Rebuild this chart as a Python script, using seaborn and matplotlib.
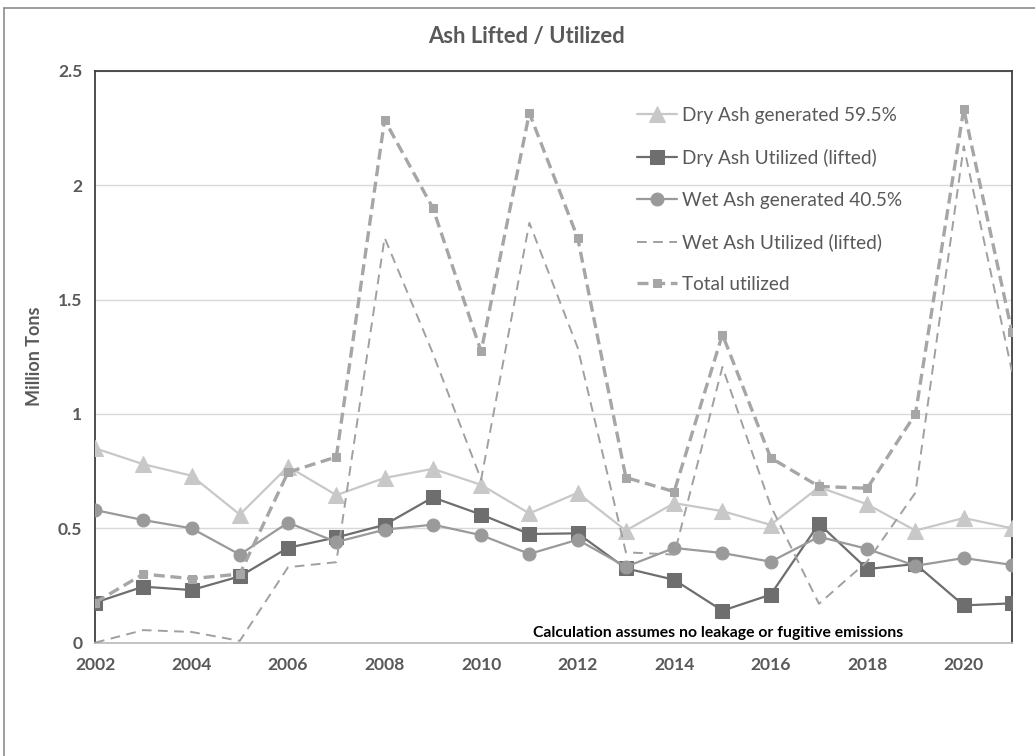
import matplotlib
matplotlib.use("Agg")
import matplotlib.pyplot as plt
from matplotlib.lines import Line2D
from matplotlib.ticker import FuncFormatter, MultipleLocator
import seaborn as sns
import pandas as pd

years = list(range(2002, 2022))
dry_gen = [0.85, 0.78, 0.73, 0.56, 0.77, 0.645, 0.72, 0.76, 0.69, 0.565,
           0.655, 0.49, 0.61, 0.575, 0.515, 0.68, 0.605, 0.49, 0.545, 0.50]
dry_util = [0.175, 0.245, 0.23, 0.29, 0.415, 0.46, 0.515, 0.635, 0.56, 0.475,
            0.478, 0.325, 0.275, 0.14, 0.21, 0.52, 0.322, 0.344, 0.163, 0.172]
wet_gen = [0.58, 0.536, 0.50, 0.385, 0.525, 0.44, 0.494, 0.516, 0.47, 0.388,
           0.45, 0.332, 0.414, 0.392, 0.354, 0.463, 0.41, 0.336, 0.37, 0.34]
wet_util = [0.0, 0.055, 0.047, 0.008, 0.33, 0.352, 1.77, 1.265, 0.713, 1.835,
            1.29, 0.395, 0.385, 1.205, 0.598, 0.17, 0.355, 0.656, 2.17, 1.185]
total = [0.175, 0.30, 0.28, 0.30, 0.745, 0.812, 2.285, 1.90, 1.273, 2.315,
         1.77, 0.722, 0.66, 1.347, 0.808, 0.683, 0.675, 1.0, 2.333, 1.357]

labels = ["Dry Ash generated 59.5%", "Dry Ash Utilized (lifted)",
          "Wet Ash generated 40.5%", "Wet Ash Utilized (lifted)", "Total utilized"]
title = "Ash Lifted / Utilized"
ylabel = "Million Tons"
note = "Calculation assumes no leakage or fugitive emissions"

df = pd.DataFrame({"year": years, "dry_gen": dry_gen, "dry_util": dry_util,
                   "wet_gen": wet_gen, "wet_util": wet_util, "total": total})

sns.set_style("white")
plt.rcParams["font.family"] = ["Lato", "DejaVu Sans"]

W, H = 1035, 756
fig = plt.figure(figsize=(W / 100, H / 100), dpi=100)
left, right, top, bottom = 95, 1012, 70.7, 642.7
ax = fig.add_axes([left / W, 1 - bottom / H, (right - left) / W, (bottom - top) / H])

c_drygen = "#C8C8C8"
c_dryutil = "#6E6E6E"
c_wetgen = "#9A9A9A"
c_wetutil = "#A0A0A0"
c_total = "#A6A6A6"

sns.lineplot(data=df, x="year", y="dry_gen", ax=ax, color=c_drygen, linewidth=1.6,
             marker="^", markersize=11, markeredgecolor=c_drygen, markerfacecolor=c_drygen,
             zorder=3)
sns.lineplot(data=df, x="year", y="dry_util", ax=ax, color=c_dryutil, linewidth=1.6,
             marker="s", markersize=10, markeredgecolor=c_dryutil, markerfacecolor=c_dryutil,
             zorder=4)
sns.lineplot(data=df, x="year", y="wet_gen", ax=ax, color=c_wetgen, linewidth=1.6,
             marker="o", markersize=9.3, markeredgecolor=c_wetgen, markerfacecolor=c_wetgen,
             zorder=5)
sns.lineplot(data=df, x="year", y="wet_util", ax=ax, color=c_wetutil, linewidth=1.4,
             linestyle=(0, (5, 3.3)), zorder=6)
sns.lineplot(data=df, x="year", y="total", ax=ax, color=c_total, linewidth=2.4,
             linestyle=(0, (3.3, 1.7)), marker="s", markersize=6.3,
             markeredgecolor=c_total, markerfacecolor=c_total, zorder=7)

lines = ax.get_lines()[:5]

ax.set_xlim(2002, 2021)
ax.set_ylim(0, 2.5)
ax.xaxis.set_major_locator(MultipleLocator(2))
ax.yaxis.set_major_locator(MultipleLocator(0.5))
ax.yaxis.set_major_formatter(FuncFormatter(lambda v, p: f"{v:g}"))
ax.grid(axis="y", color="#D9D9D9", linewidth=1.0)
ax.grid(axis="x", visible=False)
ax.set_axisbelow(True)

for s in ["top", "left", "right"]:
    ax.spines[s].set_color("#404040")
    ax.spines[s].set_linewidth(1.3)
ax.spines["bottom"].set_color("#BFBFBF")
ax.spines["bottom"].set_linewidth(1.3)

ax.tick_params(axis="x", direction="out", length=4, width=1, color="#BFBFBF",
               labelsize=12.6, labelcolor="#595959", pad=6)
ax.tick_params(axis="y", length=0, labelsize=12.6, labelcolor="#595959", pad=9)
for lab in ax.get_xticklabels() + ax.get_yticklabels():
    lab.set_fontweight("bold")

ax.set_xlabel("")
ax.set_ylabel(ylabel, fontsize=13, fontweight="bold", color="#595959", labelpad=11)

leg = ax.legend(lines, labels, loc="upper left",
                bbox_to_anchor=(637 / W, 1 - 107 / H), bbox_transform=fig.transFigure,
                frameon=False, fontsize=13.7, labelcolor="#595959",
                handlelength=2.1, handletextpad=0.25, labelspacing=1.3, borderpad=0,
                borderaxespad=0)

ax.text(0.4776, 0.0166, note, transform=ax.transAxes, ha="left", va="center",
        fontsize=11.3, fontweight="bold", color="black")

fig.text(527 / W, 1 - 36 / H, title, ha="center", va="center",
         fontsize=15.8, fontweight="bold", color="#595959")

fig.add_artist(Line2D([4 / W, 1], [1 - 8.3 / H, 1 - 8.3 / H], transform=fig.transFigure,
                      color="#8C8C8C", linewidth=1.2))
fig.add_artist(Line2D([4 / W, 4 / W], [0, 1 - 8.3 / H], transform=fig.transFigure,
                      color="#8C8C8C", linewidth=1.2))

fig.savefig("out.png", dpi=100)
